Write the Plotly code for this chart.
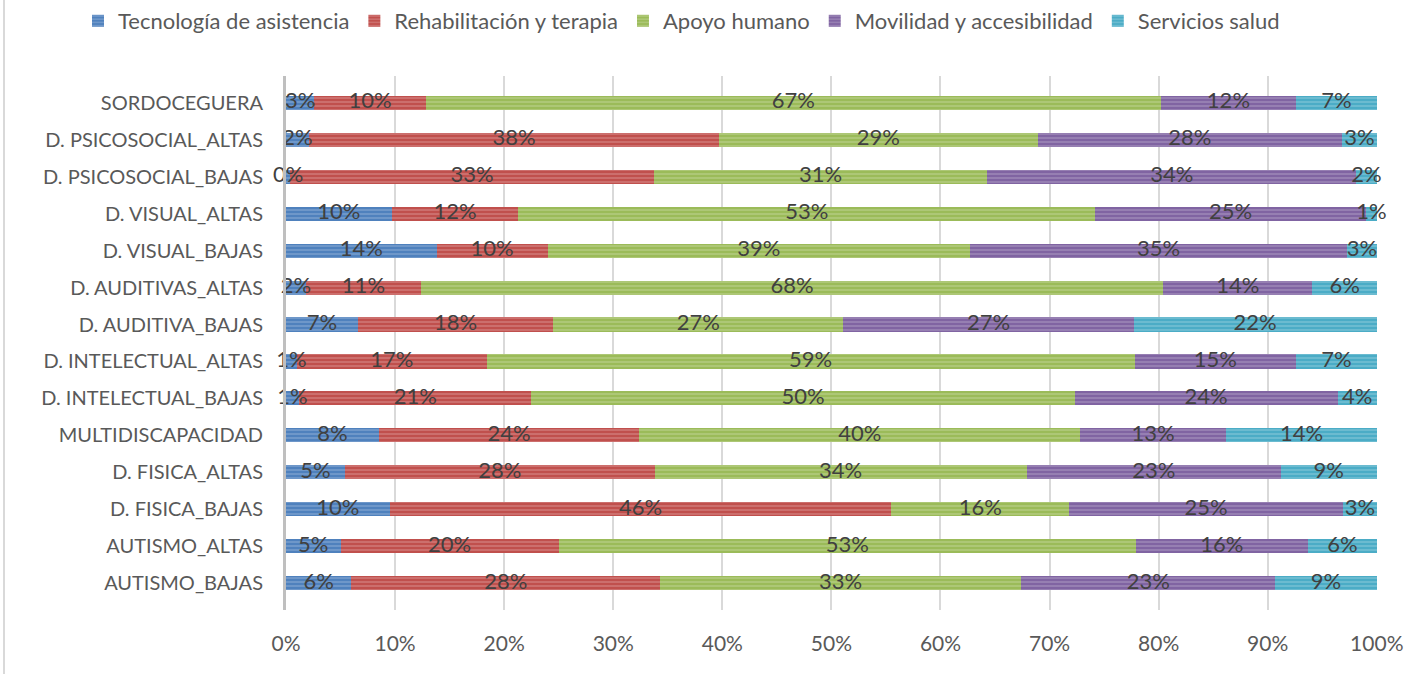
import plotly.graph_objects as go

categories = ["AUTISMO_BAJAS", "AUTISMO_ALTAS", "D. FISICA_BAJAS", "D. FISICA_ALTAS",
              "MULTIDISCAPACIDAD", "D. INTELECTUAL_BAJAS", "D. INTELECTUAL_ALTAS",
              "D. AUDITIVA_BAJAS", "D. AUDITIVAS_ALTAS", "D. VISUAL_BAJAS", "D. VISUAL_ALTAS",
              "D. PSICOSOCIAL_BAJAS", "D. PSICOSOCIAL_ALTAS", "SORDOCEGUERA"]

tecnologia = [6.0, 5.0, 9.5, 5.4, 8.5, 1.2, 1.0, 6.6, 1.8, 13.8, 9.7, 0.4, 2.1, 2.6]
rehabilitacion = [28.3, 20.0, 46.0, 28.4, 23.9, 21.3, 17.4, 17.9, 10.6, 10.2, 11.6, 33.3, 37.6, 10.2]
apoyo = [33.1, 52.9, 16.3, 34.1, 40.4, 49.8, 59.4, 26.6, 68.0, 38.7, 52.9, 30.6, 29.2, 67.4]
movilidad = [23.3, 15.8, 25.1, 23.3, 13.4, 24.1, 14.8, 26.6, 13.7, 34.6, 24.8, 33.8, 27.9, 12.4]
salud = [9.3, 6.3, 3.1, 8.8, 13.8, 3.6, 7.4, 22.3, 5.9, 2.7, 1.0, 1.9, 3.2, 7.4]

x_ticks = [0, 10, 20, 30, 40, 50, 60, 70, 80, 90, 100]
x_tick_labels = ["0%", "10%", "20%", "30%", "40%", "50%", "60%", "70%", "80%", "90%", "100%"]

series = [
    ("Tecnología de asistencia", tecnologia, "#4F81BD", "#A7C0DE"),
    ("Rehabilitación y terapia", rehabilitacion, "#C0504D", "#E3A9A7"),
    ("Apoyo humano", apoyo, "#9BBB59", "#CDDDAC"),
    ("Movilidad y accesibilidad", movilidad, "#8064A2", "#BFB1D0"),
    ("Servicios salud", salud, "#4BACC6", "#A5D5E2"),
]

FONT = "Lato, Roboto, sans-serif"

fig = go.Figure()
for name, vals, col, light in series:
    fig.add_trace(go.Bar(
        y=categories, x=vals, name=name, orientation="h",
        marker=dict(color=col, line=dict(width=0),
                    pattern=dict(shape="-", fgcolor=light, bgcolor=col, size=4, solidity=0.35)),
        hoverinfo="skip",
    ))

# data labels drawn on top of all bars, centred on each stacked segment
base = [0.0] * len(categories)
for name, vals, col, light in series:
    mids = [b + v / 2 for b, v in zip(base, vals)]
    fig.add_trace(go.Scatter(
        x=mids, y=categories, mode="text",
        text=[f"{v:.0f}%" for v in vals],
        textposition="middle center",
        textfont=dict(size=22, color="#404040", family=FONT),
        cliponaxis=False, showlegend=False, hoverinfo="skip",
    ))
    base = [b + v for b, v in zip(base, vals)]

fig.update_layout(
    barmode="stack",
    width=1427, height=674,
    margin=dict(l=286, r=50, t=76, b=64, autoexpand=False),
    paper_bgcolor="white", plot_bgcolor="white",
    bargap=0.62,
    font=dict(family=FONT, color="#595959"),
    legend=dict(orientation="h", xref="paper", yref="paper",
                x=(78 - 286) / 1091, xanchor="left", y=1 + 76 / 534, yanchor="top",
                font=dict(size=22, color="#595959", family=FONT),
                traceorder="normal", itemwidth=30),
    xaxis=dict(range=[0, 100.02], tickmode="array", tickvals=x_ticks, ticktext=x_tick_labels,
               showgrid=True, gridcolor="#D9D9D9", gridwidth=2,
               zeroline=False, showline=False, automargin=False,
               ticks="outside", ticklen=15, tickcolor="rgba(0,0,0,0)",
               tickfont=dict(size=21, color="#595959", family=FONT)),
    yaxis=dict(type="category", showline=True, linecolor="#BFBFBF", linewidth=3,
               automargin=False,
               ticks="outside", ticklen=16, tickcolor="rgba(0,0,0,0)",
               tickfont=dict(size=20, color="#595959", family=FONT)),
    shapes=[dict(type="line", xref="paper", yref="paper",
                 x0=(4 - 286) / 1091, x1=(4 - 286) / 1091,
                 y0=1 + 76 / 534, y1=-64 / 534,
                 line=dict(color="#D9D9D9", width=2))],
)

fig.write_html("out.html", config={"displayModeBar": False},
               post_script="document.body.style.margin='0';")
